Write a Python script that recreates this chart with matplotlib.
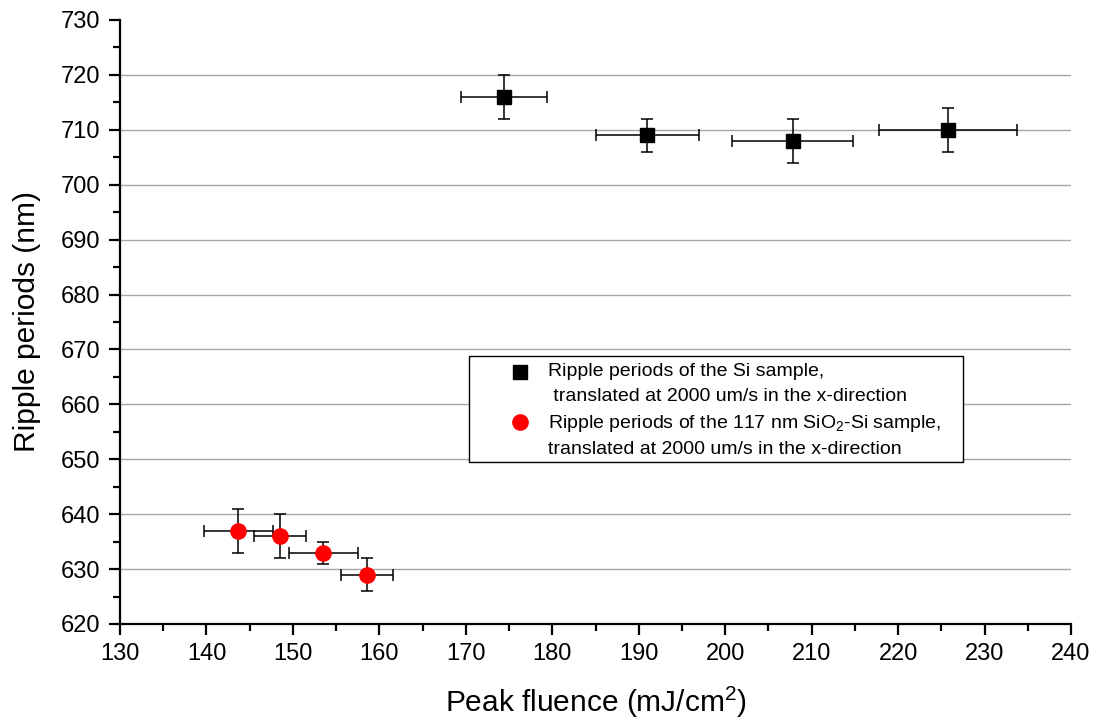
import matplotlib
matplotlib.use("Agg")
import matplotlib.pyplot as plt
from matplotlib.lines import Line2D
from matplotlib.patches import Rectangle
from matplotlib.ticker import MultipleLocator

plt.rcParams['font.family'] = ['Liberation Sans', 'DejaVu Sans']
plt.rcParams['mathtext.fontset'] = 'custom'
plt.rcParams['mathtext.rm'] = 'Liberation Sans'
plt.rcParams['mathtext.it'] = 'Liberation Sans:italic'

# Si sample
si_fluence = [174.4, 191.0, 207.8, 225.8]
si_fluence_err = [5.0, 6.0, 7.0, 8.0]
si_period = [716, 709, 708, 710]
si_period_err = [4, 3, 4, 4]

# 117 nm SiO2-Si sample
sio2_fluence = [143.7, 148.5, 153.5, 158.6]
sio2_fluence_err = [4.0, 3.0, 4.0, 3.0]
sio2_period = [637, 636, 633, 629]
sio2_period_err = [4, 4, 2, 3]

x_ticks = list(range(130, 241, 10))
y_ticks = list(range(620, 731, 10))

legend_lines = [
    "Ripple periods of the Si sample,",
    " translated at 2000 um/s in the x-direction",
    r"Ripple periods of the 117 nm SiO$_2$-Si sample,",
    "translated at 2000 um/s in the x-direction",
]

W, H = 1097, 723
fig = plt.figure(figsize=(W / 100, H / 100), dpi=100)
ax = fig.add_axes([120 / W, 1 - 624 / H, (1071 - 120) / W, (624 - 20) / H])

ax.set_xlim(130, 240)
ax.set_ylim(620, 730)
ax.set_xticks(x_ticks)
ax.set_yticks(y_ticks)
ax.xaxis.set_minor_locator(MultipleLocator(5))
ax.yaxis.set_minor_locator(MultipleLocator(5))

for y in y_ticks[1:-1]:
    ax.axhline(y, color='#a6a6a6', lw=1.0, zorder=0)

for side in ('top', 'right'):
    ax.spines[side].set_visible(False)
for side in ('left', 'bottom'):
    ax.spines[side].set_linewidth(1.6)

ax.tick_params(which='major', direction='out', length=8, width=1.6,
               labelsize=17, colors='black', pad=6)
ax.tick_params(which='minor', direction='out', length=5, width=1.6)

ax.errorbar(si_fluence, si_period, xerr=si_fluence_err, yerr=si_period_err,
            fmt='s', color='black', ms=10, ecolor='black', elinewidth=1.1,
            capsize=4.5, capthick=1.1, zorder=3)
ax.errorbar(sio2_fluence, sio2_period, xerr=sio2_fluence_err,
            yerr=sio2_period_err, fmt='o', color='#ff0000', ms=11,
            ecolor='black', elinewidth=1.1, capsize=4.5, capthick=1.1,
            zorder=3)

ax.set_xlabel(r"Peak fluence (mJ/cm$^2$)", fontsize=21.5, labelpad=14)
ax.set_ylabel("Ripple periods (nm)", fontsize=21.5, labelpad=14)


def fx(px):
    return px / W


def fy(py):
    return 1 - py / H


# legend box
fig.patches.append(Rectangle((fx(469), fy(462)), fx(963) - fx(469),
                             fy(356) - fy(462), transform=fig.transFigure,
                             facecolor='white', edgecolor='black', lw=1.0,
                             zorder=5))
line_y = [372, 396, 423, 450]
for text, py in zip(legend_lines, line_y):
    fig.text(fx(548), fy(py), text, fontsize=14, va='center', ha='left',
             zorder=6)
fig.add_artist(Line2D([fx(520)], [fy(372)], marker='s', ms=10,
                      color='black', ls='none', zorder=6))
fig.add_artist(Line2D([fx(520)], [fy(422)], marker='o', ms=11,
                      color='#ff0000', ls='none', zorder=6))

fig.savefig("out.png", dpi=100)
